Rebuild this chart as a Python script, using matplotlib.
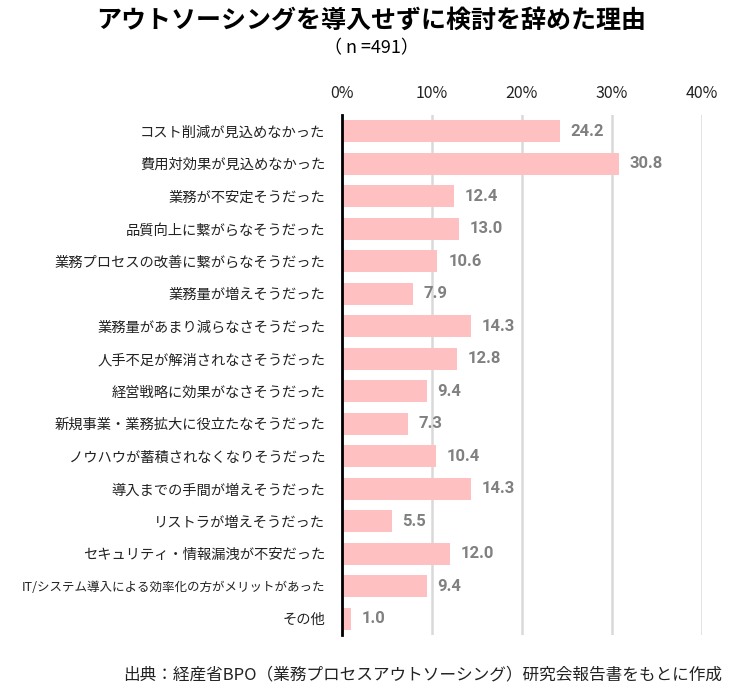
import matplotlib.pyplot as plt
import numpy as np

plt.rcParams['font.family'] = ['Noto Sans CJK JP', 'DejaVu Sans']

categories = [
    'コスト削減が見込めなかった',
    '費用対効果が見込めなかった',
    '業務が不安定そうだった',
    '品質向上に繋がらなそうだった',
    '業務プロセスの改善に繋がらなそうだった',
    '業務量が増えそうだった',
    '業務量があまり減らなさそうだった',
    '人手不足が解消されなさそうだった',
    '経営戦略に効果がなさそうだった',
    '新規事業・業務拡大に役立たなそうだった',
    'ノウハウが蓄積されなくなりそうだった',
    '導入までの手間が増えそうだった',
    'リストラが増えそうだった',
    'セキュリティ・情報漏洩が不安だった',
    'IT/システム導入による効率化の方がメリットがあった',
    'その他',
]
values = [24.2, 30.8, 12.4, 13.0, 10.6, 7.9, 14.3, 12.8, 9.4, 7.3, 10.4, 14.3, 5.5, 12.0, 9.4, 1.0]
xticks = [0, 10, 20, 30, 40]

fig = plt.figure(figsize=(7.41, 6.98), dpi=100)
ax = fig.add_axes([342 / 741, 1 - 635 / 698, 360 / 741, 520 / 698])

y = np.arange(len(categories))
ax.barh(y, values, height=0.67, color='#ffc0c2', zorder=2)
for yi, v in zip(y, values):
    ax.text(v + 1.2, yi, f'{v:.1f}', va='center', ha='left', fontsize=12,
            fontweight='bold', color='#808080', family=['Roboto', 'DejaVu Sans'])

ax.set_xlim(0, 40)
ax.set_ylim(len(categories) - 0.5, -0.5)
ax.set_xticks(xticks)
ax.set_xticklabels([f'{t}%' for t in xticks], fontsize=11.5, color='#222222')
ax.xaxis.tick_top()
ax.tick_params(axis='x', length=0, pad=9)
ax.set_yticks(y)
ax.set_yticklabels(categories, fontsize=10.3, color='#222222')
# the long label is set smaller so it fits
for lab in ax.get_yticklabels():
    if len(lab.get_text()) > 22:
        lab.set_fontsize(9)
ax.tick_params(axis='y', length=0, pad=12)
ax.grid(axis='x', color='#d9d9d9', linewidth=1.8, zorder=0)
for s in ['top', 'right', 'bottom']:
    ax.spines[s].set_visible(False)
ax.spines['left'].set_linewidth(2)
ax.spines['left'].set_color('black')
ax.spines['left'].set_zorder(3)

fig.text(371 / 741, 1 - 22 / 698, 'アウトソーシングを導入せずに検討を辞めた理由', ha='center', va='center',
         fontsize=18, fontweight='bold')
fig.text(371 / 741, 1 - 48 / 698, '（ n =491）', ha='center', va='center', fontsize=13)
fig.text(722 / 741, 1 - 675 / 698, '出典：経産省BPO（業務プロセスアウトソーシング）研究会報告書をもとに作成',
         ha='right', va='center', fontsize=12, color='#222222')

fig.savefig('out.png', dpi=100)
